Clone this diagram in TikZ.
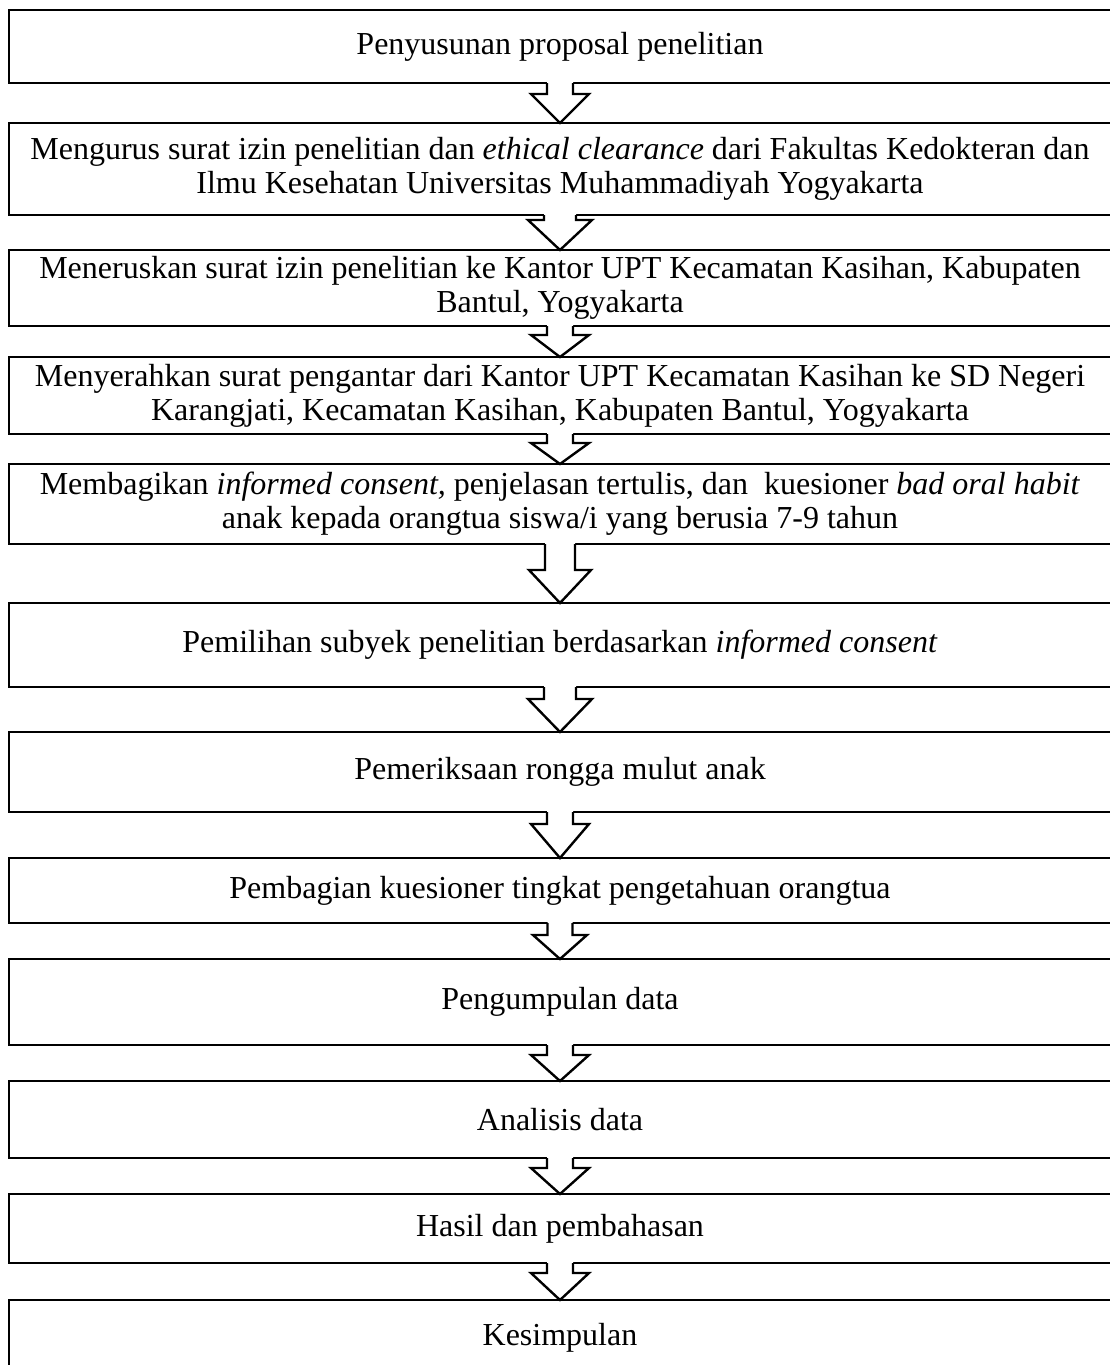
\documentclass[tikz,border=0pt]{standalone}
\usepackage{fontspec}
\setmainfont{Liberation Serif}
\usetikzlibrary{calc}
\tikzset{
  x=1pt,y=1pt,
  stepbox/.style={draw, line width=2.6pt, outer sep=0pt, inner sep=0pt,
    minimum width=1102pt, align=center, font=\fontsize{32}{34}\selectfont},
}
% #1 from node, #2 to node, #3 stem half width, #4 wing half width, #5 stem length
\newcommand\flowarrow[5]{%
  \fill[white] ($(#1.south)+(-#3,2)$) -- ($(#1.south)+(-#3,-#5)$) -- ($(#1.south)+(-#4,-#5)$) -- (#2.north)
     -- ($(#1.south)+(#4,-#5)$) -- ($(#1.south)+(#3,-#5)$) -- ($(#1.south)+(#3,2)$) -- cycle;
  \draw[line width=2.4pt, line join=miter] ($(#1.south)+(-#3,0)$) -- ($(#1.south)+(-#3,-#5)$) -- ($(#1.south)+(-#4,-#5)$) -- (#2.north)
     -- ($(#1.south)+(#4,-#5)$) -- ($(#1.south)+(#3,-#5)$) -- ($(#1.south)+(#3,0)$);
}
\newcommand\boxat[4]{% name, top, bottom, text
  \node[stepbox, minimum height={#3-#2}] (#1) at (560,{-(#2+#3)/2}) {#4};
}
\begin{document}
\begin{tikzpicture}
\useasboundingbox (0,0) rectangle (1110,-1365);
\fill[white] (0,0) rectangle (1110,-1365);
\boxat{b1}{10}{83}{Penyusunan proposal penelitian}
\boxat{b2}{123}{215}{Mengurus surat izin penelitian dan \textit{ethical clearance} dari Fakultas Kedokteran dan\\Ilmu Kesehatan Universitas Muhammadiyah Yogyakarta}
\boxat{b3}{250}{326}{Meneruskan surat izin penelitian ke Kantor UPT Kecamatan Kasihan, Kabupaten\\Bantul, Yogyakarta}
\boxat{b4}{357}{434}{Menyerahkan surat pengantar dari Kantor UPT Kecamatan Kasihan ke SD Negeri\\Karangjati, Kecamatan Kasihan, Kabupaten Bantul, Yogyakarta}
\boxat{b5}{464}{544}{Membagikan \textit{informed consent,} penjelasan tertulis, dan \ kuesioner \textit{bad oral habit}\\anak kepada orangtua siswa/i yang berusia 7-9 tahun}
\boxat{b6}{603}{687}{Pemilihan subyek penelitian berdasarkan \textit{informed consent}}
\boxat{b7}{732}{812}{Pemeriksaan rongga mulut anak}
\boxat{b8}{858}{923}{Pembagian kuesioner tingkat pengetahuan orangtua}
\boxat{b9}{959}{1045}{Pengumpulan data}
\boxat{b10}{1081}{1158}{Analisis data}
\boxat{b11}{1194}{1263}{Hasil dan pembahasan}
\boxat{b12}{1300}{1375}{Kesimpulan}
\flowarrow{b1}{b2}{13}{29}{11}
\flowarrow{b2}{b3}{16}{32}{5}
\flowarrow{b3}{b4}{13}{29}{9}
\flowarrow{b4}{b5}{13}{29}{9}
\flowarrow{b5}{b6}{15}{31}{26}
\flowarrow{b6}{b7}{16}{32}{12}
\flowarrow{b7}{b8}{13}{29}{12}
\flowarrow{b8}{b9}{12.5}{27}{12}
\flowarrow{b9}{b10}{13}{29}{10}
\flowarrow{b10}{b11}{13}{29}{10}
\flowarrow{b11}{b12}{13}{29}{10}
\end{tikzpicture}
\end{document}
